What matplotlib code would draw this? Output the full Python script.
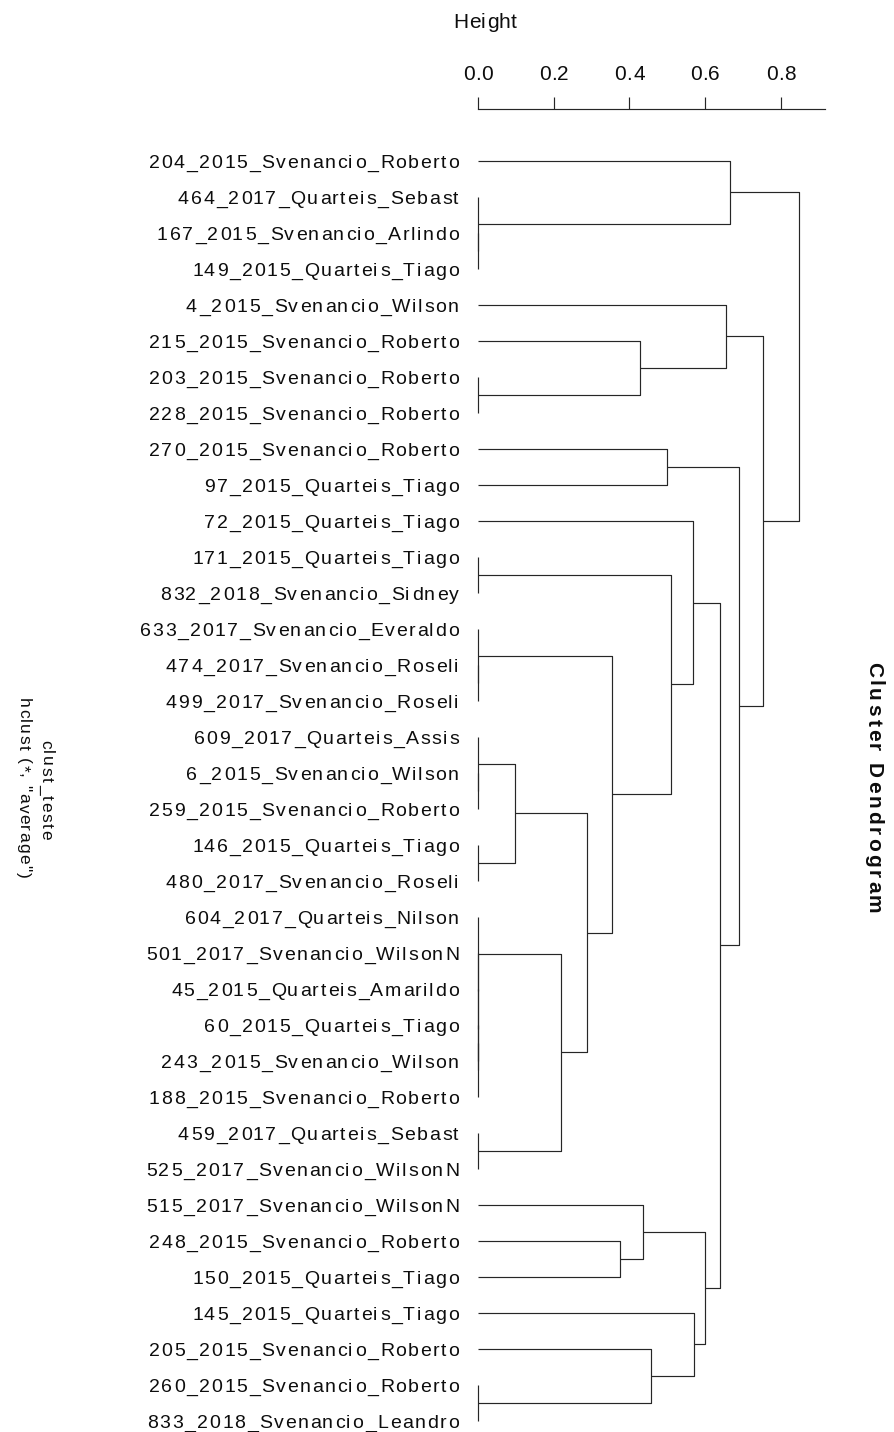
import matplotlib
matplotlib.use("Agg")
import matplotlib.pyplot as plt
from matplotlib import font_manager
from matplotlib.ft2font import FT2Font

FAMILY = "Liberation Sans"
plt.rcParams['font.family'] = [FAMILY, 'DejaVu Sans']

# leaf labels, top to bottom
labels = [
    "204_2015_Svenancio_Roberto", "464_2017_Quarteis_Sebast",
    "167_2015_Svenancio_Arlindo", "149_2015_Quarteis_Tiago",
    "4_2015_Svenancio_Wilson", "215_2015_Svenancio_Roberto",
    "203_2015_Svenancio_Roberto", "228_2015_Svenancio_Roberto",
    "270_2015_Svenancio_Roberto", "97_2015_Quarteis_Tiago",
    "72_2015_Quarteis_Tiago", "171_2015_Quarteis_Tiago",
    "832_2018_Svenancio_Sidney", "633_2017_Svenancio_Everaldo",
    "474_2017_Svenancio_Roseli", "499_2017_Svenancio_Roseli",
    "609_2017_Quarteis_Assis", "6_2015_Svenancio_Wilson",
    "259_2015_Svenancio_Roberto", "146_2015_Quarteis_Tiago",
    "480_2017_Svenancio_Roseli", "604_2017_Quarteis_Nilson",
    "501_2017_Svenancio_WilsonN", "45_2015_Quarteis_Amarildo",
    "60_2015_Quarteis_Tiago", "243_2015_Svenancio_Wilson",
    "188_2015_Svenancio_Roberto", "459_2017_Quarteis_Sebast",
    "525_2017_Svenancio_WilsonN", "515_2017_Svenancio_WilsonN",
    "248_2015_Svenancio_Roberto", "150_2015_Quarteis_Tiago",
    "145_2015_Quarteis_Tiago", "205_2015_Svenancio_Roberto",
    "260_2015_Svenancio_Roberto", "833_2018_Svenancio_Leandro",
]

# merges: node 36+k joins merge_left[k] and merge_right[k] at merge_height[k]
merge_left = [2, 1, 0, 6, 5, 4, 8, 11, 14, 13, 17, 16, 19, 47, 24, 50, 23, 22,
              21, 27, 54, 49, 45, 43, 10, 30, 29, 34, 33, 32, 62, 60, 42, 41, 38]
merge_right = [3, 36, 37, 7, 39, 40, 9, 12, 15, 44, 18, 46, 20, 48, 25, 26, 51,
               52, 53, 28, 55, 56, 57, 58, 59, 31, 61, 35, 63, 64, 65, 66, 67,
               68, 69]
merge_height = [0.0, 0.0, 0.665, 0.0, 0.429, 0.654, 0.499, 0.0, 0.0, 0.0, 0.0,
                0.0, 0.0, 0.098, 0.0, 0.0, 0.0, 0.0, 0.0, 0.0, 0.220, 0.289,
                0.355, 0.510, 0.568, 0.375, 0.437, 0.0, 0.456, 0.570, 0.599,
                0.639, 0.689, 0.753, 0.847]

height_ticks = [0.0, 0.2, 0.4, 0.6, 0.8]

W, H = 894, 1432
DPI = 100
fig = plt.figure(figsize=(W / DPI, H / DPI), dpi=DPI)

ink = "#0d0d0d"
line_col = "#262626"


def advances(s, size, weight):
    # unhinted advance width of every character, in pixels
    path = font_manager.findfont(
        font_manager.FontProperties(family=FAMILY, weight=weight))
    f = FT2Font(path, hinting_factor=1)
    f.set_size(size, DPI)
    return [f.load_char(ord(c)).linearHoriAdvance / 65536 for c in s]


def spaced(x, y, s, size=12, track=0.0, align="left", weight="normal",
           vertical=False):
    # letter-spaced text; x, y in pixels from the top left, y = baseline
    adv = [a + track for a in advances(s, size, weight)]
    total = sum(adv) - track
    pos = x if not vertical else y
    pos += {"left": 0.0, "center": -total / 2, "right": -total}[align]
    for c, a in zip(s, adv):
        p = round(pos)
        if vertical:
            fig.text(x / W, 1 - p / H, c, rotation=-90,
                     rotation_mode="anchor", ha="left", va="baseline",
                     fontsize=size, fontweight=weight, color=ink)
        else:
            fig.text(p / W, 1 - y / H, c, ha="left", va="baseline",
                     fontsize=size, fontweight=weight, color=ink)
        pos += a


# plotting area in pixels
x0_px, unit_px = 477.7, 379.2
top_px, bot_px = 109.3, 1428
leaf0_px, step_px = 160.7, 36.0
right_px = 825

ax = fig.add_axes([x0_px / W, 1 - bot_px / H, (right_px - x0_px) / W,
                   (bot_px - top_px) / H])
ax.set_xlim(0, (right_px - x0_px) / unit_px)
ax.set_ylim((bot_px - leaf0_px) / step_px, (top_px - leaf0_px) / step_px)

n = len(labels)
pos = {i: float(i) for i in range(n)}
hgt = {i: 0.0 for i in range(n)}
for k, (a, b, h) in enumerate(zip(merge_left, merge_right, merge_height)):
    ya, yb = pos[a], pos[b]
    ax.plot([hgt[a], h, h, hgt[b]], [ya, ya, yb, yb], color=line_col,
            lw=0.85, clip_on=False, solid_capstyle="butt")
    pos[n + k] = (ya + yb) / 2
    hgt[n + k] = h

for s in ["left", "right", "bottom"]:
    ax.spines[s].set_visible(False)
ax.spines["top"].set_color(line_col)
ax.spines["top"].set_linewidth(0.85)
ax.set_yticks([])
ax.xaxis.tick_top()
ax.set_xticks(height_ticks)
ax.set_xticklabels([])
ax.tick_params(axis="x", direction="out", length=12 * 0.72, width=0.85,
               color=line_col)

# leaf labels
for i, lab in enumerate(labels):
    spaced(458.5, leaf0_px + step_px * i + 7, lab, size=14, track=1.9,
           align="right")

# height axis annotation
for t in height_ticks:
    spaced(x0_px + t * unit_px, 79.5, "%.1f" % t, size=15, track=0.3,
           align="center")
spaced(485, 28, "Height", size=15, track=0.7, align="center")

# side titles
spaced(868, 661.7, "Cluster Dendrogram", size=15, track=2.9,
       weight="bold", vertical=True)
spaced(41.5, 740, "clust_teste", size=12.5, track=1.8, vertical=True)
spaced(19, 698, 'hclust (*, "average")', size=12.5, track=1.5, vertical=True)

fig.savefig("out.png", dpi=DPI, facecolor="white")
